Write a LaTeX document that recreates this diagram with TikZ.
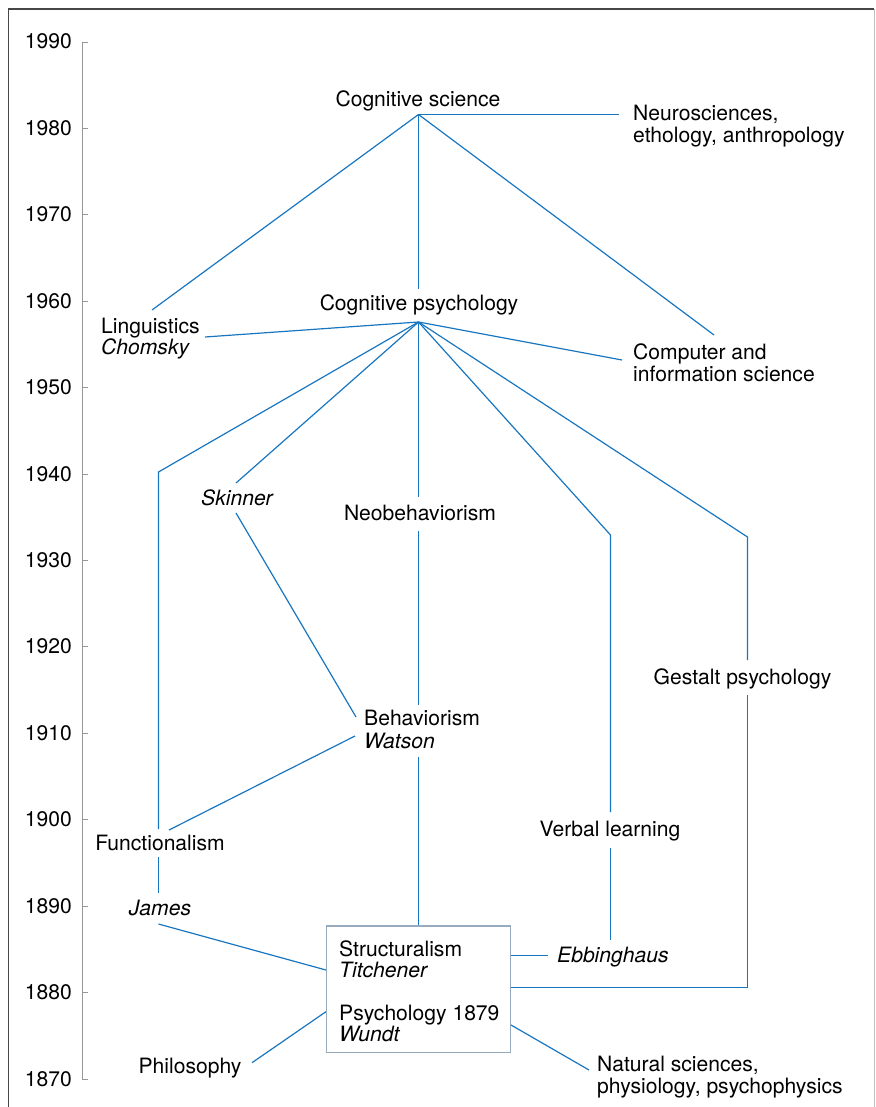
\documentclass[tikz,border=0pt]{standalone}
\usepackage{fontspec}
\setmainfont{TeX Gyre Heros}
\definecolor{linkblue}{RGB}{24,118,192}
\definecolor{boxgray}{RGB}{150,172,190}
\definecolor{axisgray}{RGB}{150,150,150}
\definecolor{framedark}{RGB}{70,70,70}
\definecolor{frameright}{RGB}{190,190,190}
\begin{document}
\begin{tikzpicture}[x=1pt,y=-1pt,
  link/.style={linkblue,line width=1.2pt},
  lbl/.style={inner sep=0pt,font=\fontsize{21.1}{22}\selectfont},
  ital/.style={lbl,font=\fontsize{21.1}{22}\selectfont\itshape},
  yearlbl/.style={lbl,anchor=base east},
  axisline/.style={axisgray,line width=0.9pt},
  boxstyle/.style={draw=boxgray,line width=1.1pt,inner sep=0pt,minimum width=184pt,minimum height=126.7pt}]
\useasboundingbox (0,0) rectangle (875,1107);
% frame
\coordinate (fTL) at (8.5,9);
\coordinate (fTR) at (874,9);
\coordinate (fBL) at (8.5,1107);
\coordinate (fBR) at (874,1107);
\draw[frameright,line width=1pt] (fTR) -- (fBR);
\draw[framedark,line width=1.4pt] (fBL) -- (fTL);
\draw[framedark,line width=2pt] (7.8,9) -- (fTR);
% axis
\coordinate (axTop) at (82,42);
\coordinate (axBot) at (82,1079);
\draw[axisline] (axTop) -- (axBot);
\foreach \yr [count=\i from 0] in {1990,1980,1970,1960,1950,1940,1930,1920,1910,1900,1890,1880,1870}{
  \pgfmathsetmacro{\yy}{42+\i*86.42}
  \coordinate (tick\yr) at (82,\yy);
  \draw[axisline] (tick\yr) -- ++(6,0);
  \node[yearlbl] (yr\yr) at (72,\yy+7) {\yr};
}
% text nodes
\node[lbl,anchor=base] (cogsci) at (418,107) {Cognitive science};
\node[lbl,anchor=base west] (neuro1) at (633,121) {Neurosciences,};
\node[lbl,anchor=base west] (neuro2) at (633,143) {ethology, anthropology};
\node[lbl,anchor=base] (cogpsy) at (419,310) {Cognitive psychology};
\node[lbl,anchor=base west] (ling) at (101,333) {Linguistics};
\node[ital,anchor=base west] (chomsky) at (101,354) {Chomsky};
\node[lbl,anchor=base west] (comp1) at (633,359) {Computer and};
\node[lbl,anchor=base west] (comp2) at (633,381) {information science};
\node[ital,anchor=base] (skinner) at (237,505) {Skinner};
\node[lbl,anchor=base] (neobeh) at (420,520) {Neobehaviorism};
\node[lbl,anchor=base] (gestalt) at (742.5,684) {Gestalt psychology};
\node[lbl,anchor=base west] (beh) at (364,725) {Behaviorism};
\node[ital,anchor=base west] (watson) at (364,748) {Watson};
\node[lbl,anchor=base] (verbal) at (610,836) {Verbal learning};
\node[lbl,anchor=base] (func) at (160,850) {Functionalism};
\node[ital,anchor=base] (james) at (160,915) {James};
\node[boxstyle] (box) at (418.5,989.3) {};
\node[lbl,anchor=base west] (struct) at (339,956) {Structuralism};
\node[ital,anchor=base west] (titch) at (339,977) {Titchener};
\node[lbl,anchor=base west] (psy) at (339,1020) {Psychology 1879};
\node[ital,anchor=base west] (wundt) at (339,1041) {Wundt};
\node[ital,anchor=base west] (ebb) at (557,962) {Ebbinghaus};
\node[lbl,anchor=base] (philo) at (190,1073) {Philosophy};
\node[lbl,anchor=base west] (nat1) at (597,1071) {Natural sciences,};
\node[lbl,anchor=base west] (nat2) at (597,1093) {physiology, psychophysics};
% connector coordinates
\coordinate (hubCS) at (418.5,114.5);
\coordinate (hubCP) at (418.5,322);
\coordinate (neuroEnd) at (619,114.5);
\coordinate (cpTop) at (418.5,289);
\coordinate (lingTop) at (152,310);
\coordinate (compTopEnd) at (714,335);
\coordinate (chomskyEnd) at (205,337);
\coordinate (compEnd) at (622,360);
\coordinate (funcCorner) at (158.5,472);
\coordinate (funcTop) at (158.5,829);
\coordinate (funcBot) at (158.5,857);
\coordinate (jamesTop) at (158.5,893);
\coordinate (jamesBot) at (158.5,924);
\coordinate (skinTop) at (236,483);
\coordinate (skinBot) at (236,513);
\coordinate (behTL) at (356,717);
\coordinate (behBL) at (355,736);
\coordinate (funcTR) at (169,830);
\coordinate (neoTop) at (418.5,497);
\coordinate (neoBot) at (418.5,531);
\coordinate (behTop) at (418.5,705);
\coordinate (behBot) at (418.5,757);
\coordinate (verbCorner) at (610.5,535);
\coordinate (verbTop) at (610.5,812);
\coordinate (verbBot) at (610.5,848);
\coordinate (ebbTop) at (610.5,940);
\coordinate (gesCorner) at (747.5,537);
\coordinate (gesTop) at (747.5,660);
\coordinate (gesBot) at (747.5,695);
\coordinate (gesCorner2) at (747.5,987.5);
\coordinate (boxGes) at (box.east |- gesCorner2);
\coordinate (ebbEnd) at (548,955.5);
\coordinate (boxJames) at (box.west |- 0,970);
\coordinate (boxPhilo) at (box.west |- 0,1011.7);
\coordinate (philoEnd) at (252,1062.7);
\coordinate (boxNat) at (box.east |- 0,1025);
\coordinate (natEnd) at (589,1070);
% connectors
\draw[link] (hubCS) -- (neuroEnd);
\draw[link] (hubCS) -- (cpTop);
\draw[link] (hubCS) -- (lingTop);
\draw[link] (hubCS) -- (compTopEnd);
\draw[link] (hubCP) -- (chomskyEnd);
\draw[link] (hubCP) -- (compEnd);
\draw[link] (hubCP) -- (funcCorner) -- (funcTop);
\draw[link] (funcBot) -- (jamesTop);
\draw[link] (hubCP) -- (skinTop);
\draw[link] (skinBot) -- (behTL);
\draw[link] (behBL) -- (funcTR);
\draw[link] (hubCP) -- (neoTop);
\draw[link] (neoBot) -- (behTop);
\draw[link] (behBot) -- (box.north);
\draw[link] (hubCP) -- (verbCorner) -- (verbTop);
\draw[link] (verbBot) -- (ebbTop);
\draw[link] (hubCP) -- (gesCorner) -- (gesTop);
\draw[link] (gesBot) -- (gesCorner2) -- (boxGes);
\draw[link] (box.east |- ebbEnd) -- (ebbEnd);
\draw[link] (jamesBot) -- (boxJames);
\draw[link] (boxPhilo) -- (philoEnd);
\draw[link] (boxNat) -- (natEnd);
\end{tikzpicture}
\end{document}
